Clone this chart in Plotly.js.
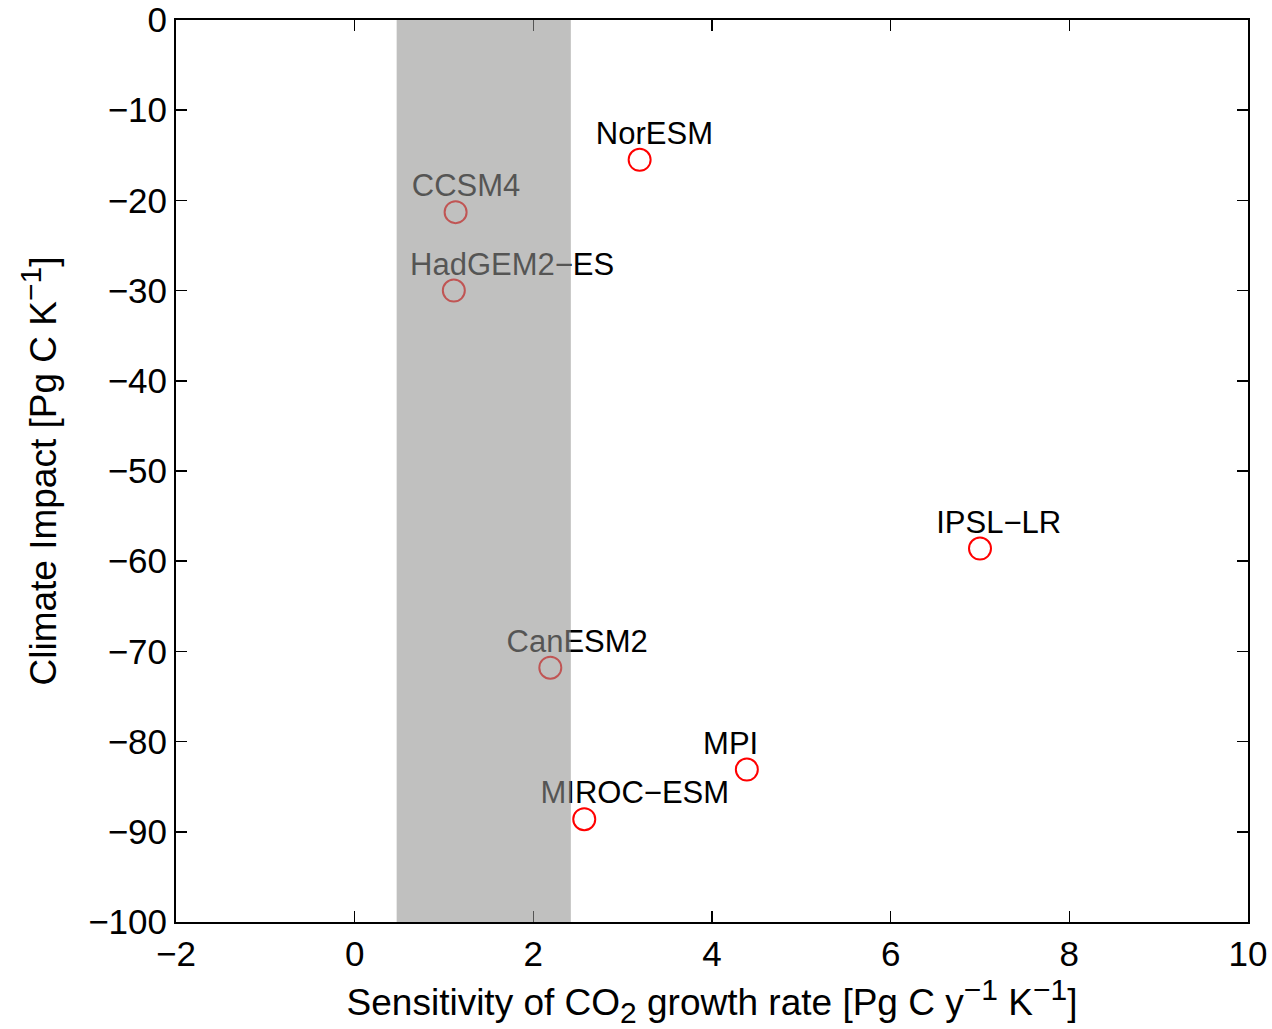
<!DOCTYPE html>
<html>
<head>
<meta charset="utf-8">
<script src="https://cdn.plot.ly/plotly-3.0.1.min.js"></script>
<style>html,body{margin:0;padding:0;background:#fff;}</style>
</head>
<body>
<div id="chart" style="width:1272px;height:1029px;"></div>
<script>
// Data
const models = ["NorESM", "CCSM4", "HadGEM2\u2212ES", "CanESM2", "MIROC\u2212ESM", "MPI", "IPSL\u2212LR"];
const sensitivity = [3.19, 1.13, 1.11, 2.19, 2.57, 4.39, 7.0];
const climateImpact = [-15.5, -21.3, -30.0, -71.8, -88.6, -83.1, -58.6];
const band = [0.47, 2.42];
const xTicks = [-2, 0, 2, 4, 6, 8, 10];
const yTicks = [0, -10, -20, -30, -40, -50, -60, -70, -80, -90, -100];

// label offsets (text placed up-left of each marker)
const labelDx = -0.49, labelDy = 2.6;

const markers = {
  x: sensitivity, y: climateImpact, type: 'scatter', mode: 'markers',
  marker: {symbol: 'circle-open', size: 22, color: 'rgb(255,0,0)', line: {width: 2, color: 'rgb(255,0,0)'}},
  hoverinfo: 'skip', showlegend: false, cliponaxis: false
};
const labels = {
  x: sensitivity.map(v => v + labelDx), y: climateImpact.map(v => v + labelDy),
  type: 'scatter', mode: 'text', text: models, textposition: 'middle right',
  textfont: {family: 'Liberation Sans, Arial, sans-serif', size: 31, color: '#000'},
  hoverinfo: 'skip', showlegend: false, cliponaxis: false
};

const axisCommon = {
  showgrid: false, zeroline: false, showline: true, linecolor: '#000', linewidth: 2,
  mirror: 'ticks', ticks: 'inside', ticklen: 11, tickwidth: 1.5, tickcolor: '#000',
  tickfont: {family: 'Liberation Sans, Arial, sans-serif', size: 35, color: '#000'}
};

const sup = s => '<sup><span style="font-size:30px">' + s + '</span></sup>';
const sub = s => '<sub><span style="font-size:30px">' + s + '</span></sub>';

const layout = {
  width: 1272, height: 1029,
  margin: {l: 176, r: 24, t: 20, b: 107},
  paper_bgcolor: '#fff', plot_bgcolor: '#fff',
  font: {family: 'Liberation Sans, Arial, sans-serif', color: '#000'},
  xaxis: Object.assign({}, axisCommon, {
    range: [xTicks[0], xTicks[xTicks.length - 1]], tickvals: xTicks,
    title: {text: 'Sensitivity of CO' + sub('2') + ' growth rate [Pg C y' + sup('\u22121') + ' K' + sup('\u22121') + ']',
            font: {size: 37, color: '#000'}, standoff: 2}
  }),
  yaxis: Object.assign({}, axisCommon, {
    range: [yTicks[yTicks.length - 1], yTicks[0]], tickvals: yTicks,
    title: {text: 'Climate Impact [Pg C K' + sup('\u22121') + ']', font: {size: 37, color: '#000'}, standoff: 20}
  }),
  shapes: [{
    type: 'rect', xref: 'x', yref: 'paper', x0: band[0], x1: band[1], y0: 0, y1: 1,
    fillcolor: 'rgb(146,146,144)', opacity: 0.58, line: {width: 0}, layer: 'above'
  }]
};

Plotly.newPlot('chart', [markers, labels], layout, {displayModeBar: false, staticPlot: true});
</script>
</body>
</html>
